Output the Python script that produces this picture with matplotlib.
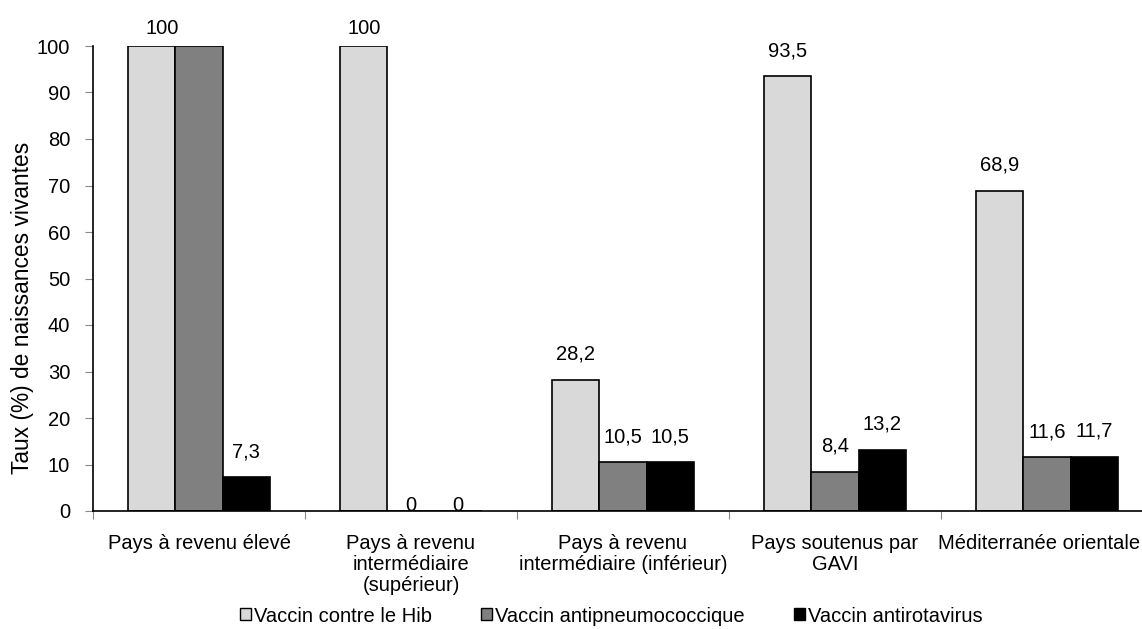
import numpy as np
import matplotlib
matplotlib.use('Agg')
import matplotlib.pyplot as plt
from matplotlib.patches import Patch

plt.rcParams['font.family'] = ['Liberation Sans', 'DejaVu Sans']

categories = ['Pays à revenu élevé', 'Pays à revenu\nintermédiaire\n(supérieur)',
              'Pays à revenu\nintermédiaire (inférieur)', 'Pays soutenus par\nGAVI',
              'Méditerranée orientale']
series_names = ['Vaccin contre le Hib', 'Vaccin antipneumococcique', 'Vaccin antirotavirus']
hib = [100, 100, 28.2, 93.5, 68.9]
pneumo = [100, 0, 10.5, 8.4, 11.6]
rota = [7.3, 0, 10.5, 13.2, 11.7]
# le 2e "100" du premier groupe n'a pas d'étiquette dans l'original
hidden_labels = {(1, 0)}

colors = ['#d9d9d9', '#808080', '#000000']
FS = 14.5
W, H = 1142, 629

fig = plt.figure(figsize=(W / 100, H / 100), dpi=100)
# l'axe déborde un peu à droite, comme dans l'original
ax = fig.add_axes([93 / W, 118 / H, 1060 / W, 465 / H])

x = np.arange(len(categories))
w = 0.222
for s, (vals, col) in enumerate(zip([hib, pneumo, rota], colors)):
    pos = x + (s - 1) * w
    ax.bar(pos, vals, w, color=col, edgecolor='black', linewidth=1.2, zorder=2)
    for i, v in enumerate(vals):
        if (s, i) in hidden_labels:
            continue
        lab = f'{v:g}'.replace('.', ',')
        if v == 0:
            off = -4
        elif v >= 99:
            off = 8
        else:
            off = 16
        px = pos[i] + (0.05 if (s, i) == (0, 0) else 0)
        ax.annotate(lab, (px, v), xytext=(0, off), textcoords='offset pixels',
                    ha='center', va='bottom', fontsize=FS, annotation_clip=False)

# libellés des catégories
cat_texts = []
for i, cat in enumerate(categories):
    t = ax.annotate(cat, (x[i], 0), xytext=(0, -23), textcoords='offset pixels',
                    ha='center', va='top', fontsize=FS, linespacing=1.12,
                    annotation_clip=False)
    cat_texts.append(t)

ax.set_xlim(-0.5, len(categories) - 0.5)
ax.set_ylim(0, 100)
ax.set_yticks(np.arange(0, 101, 10))
ax.set_xticks(np.arange(-0.5, len(categories), 1))
ax.set_xticklabels([])
ax.tick_params(axis='x', length=6, color='#888888', direction='out')
ax.tick_params(axis='y', labelsize=FS, length=6, color='#888888', pad=10.5)
for sp in ['top', 'right']:
    ax.spines[sp].set_visible(False)
ax.spines['left'].set_linewidth(1.2)
ax.spines['bottom'].set_linewidth(1.2)
ax.set_ylabel('Taux (%) de naissances vivantes', fontsize=16.4)
ax.yaxis.set_label_coords((23 - 93) / 1060, (511 - 308) / 465)
ax.yaxis.label.set_va('center')

handles = [Patch(facecolor=c, edgecolor='black', linewidth=1) for c in colors]
fig.legend(handles, series_names, loc='center', bbox_to_anchor=(611.5 / W, 13 / H),
           ncol=3, frameon=False, fontsize=FS, handlelength=0.55, handleheight=0.55,
           handletextpad=0.15, columnspacing=2.45, borderpad=0)

# garder le dernier libellé dans la figure (il touche le bord droit)
renderer = fig.canvas.get_renderer()
bb = cat_texts[-1].get_window_extent(renderer)
overflow = bb.x1 - (W - 2)
if overflow > 0:
    cat_texts[-1].xyann = (-overflow, -23)

fig.savefig('out.png', dpi=100)
